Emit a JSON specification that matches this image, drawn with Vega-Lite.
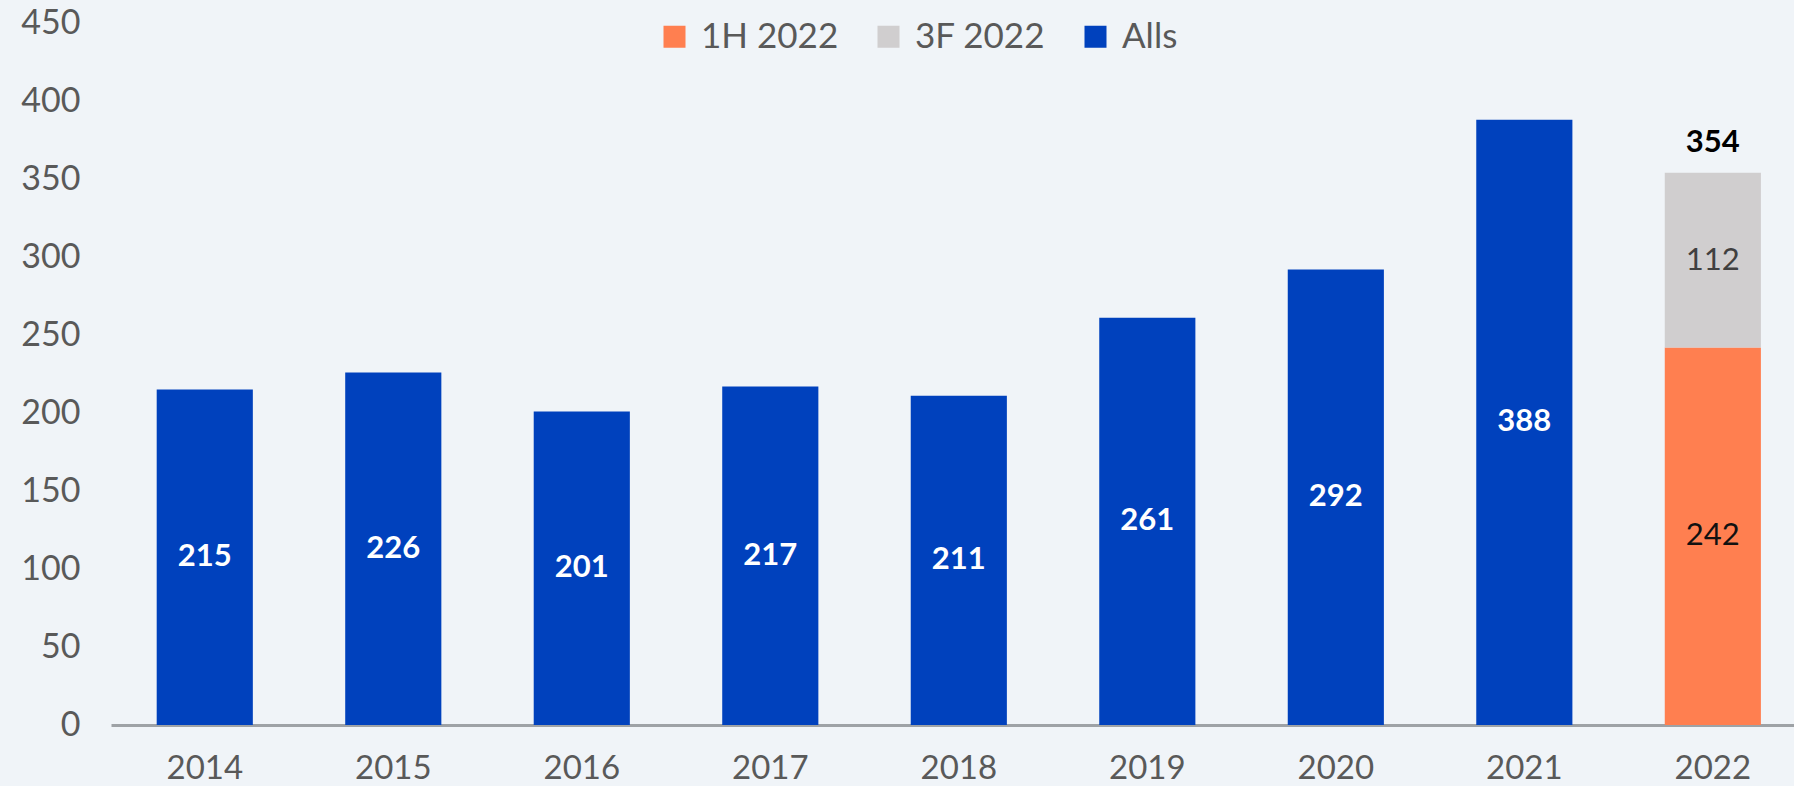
{
  "$schema": "https://vega.github.io/schema/vega-lite/v6.json",
  "width": 1683,
  "height": 702,
  "autosize": {"type": "none"},
  "padding": {"left": 111, "top": 23, "right": 0, "bottom": 61},
  "background": "#F0F4F8",
  "config": {
    "view": {"stroke": null},
    "font": "Lato"
  },
  "data": {
    "values": [
      {"year": "2014", "series": "Alls", "value": 215},
      {"year": "2015", "series": "Alls", "value": 226},
      {"year": "2016", "series": "Alls", "value": 201},
      {"year": "2017", "series": "Alls", "value": 217},
      {"year": "2018", "series": "Alls", "value": 211},
      {"year": "2019", "series": "Alls", "value": 261},
      {"year": "2020", "series": "Alls", "value": 292},
      {"year": "2021", "series": "Alls", "value": 388},
      {"year": "2022", "series": "1H 2022", "value": 242},
      {"year": "2022", "series": "3F 2022", "value": 112}
    ]
  },
  "encoding": {
    "x": {
      "field": "year",
      "type": "ordinal",
      "title": null,
      "scale": {"paddingInner": 0.49, "paddingOuter": 0.209, "align": 0.58},
      "axis": {
        "labelAngle": 0,
        "labelFont": "Lato",
        "labelFontSize": 33,
        "labelColor": "#595959",
        "labelPadding": 27,
        "ticks": false,
        "domainColor": "#9EA2A6",
        "domainWidth": 3,
        "grid": false
      }
    }
  },
  "layer": [
    {
      "mark": {"type": "bar"},
      "encoding": {
        "y": {
          "field": "value",
          "type": "quantitative",
          "stack": "zero",
          "title": null,
          "scale": {"domain": [0, 450], "nice": false},
          "axis": {
            "values": [0, 50, 100, 150, 200, 250, 300, 350, 400, 450],
            "labelFont": "Lato",
            "labelFontSize": 34,
            "labelColor": "#595959",
            "labelPadding": 31,
            "ticks": false,
            "domain": false,
            "grid": false
          }
        },
        "order": {"field": "series", "sort": "ascending"},
        "color": {
          "field": "series",
          "type": "nominal",
          "scale": {
            "domain": ["1H 2022", "3F 2022", "Alls"],
            "range": ["#FF7F50", "#D0CECF", "#0041BD"]
          },
          "legend": {
            "title": null,
            "orient": "none",
            "legendX": 546,
            "legendY": -4,
            "direction": "horizontal",
            "symbolType": "square",
            "symbolSize": 484,
            "symbolStrokeWidth": 0,
            "labelFont": "Lato",
            "labelFontSize": 35,
            "labelColor": "#595959",
            "columnPadding": 32,
            "labelOffset": 9
          }
        }
      }
    },
    {
      "transform": [{"filter": "datum.series === 'Alls'"}],
      "mark": {"type": "text", "font": "Lato", "fontWeight": "bold", "fontSize": 31, "color": "#FFFFFF", "baseline": "middle"},
      "encoding": {
        "y": {"field": "value", "type": "quantitative", "scale": {"domain": [0, 900], "nice": false}, "axis": null},
        "text": {"field": "value", "type": "quantitative"}
      }
    },
    {
      "transform": [{"filter": "datum.series === '1H 2022'"}],
      "mark": {"type": "text", "font": "Lato", "fontSize": 31, "color": "#111111", "baseline": "middle"},
      "encoding": {
        "y": {"field": "value", "type": "quantitative", "scale": {"domain": [0, 900], "nice": false}, "axis": null},
        "text": {"field": "value", "type": "quantitative"}
      }
    },
    {
      "transform": [
        {"stack": "value", "groupby": ["year"], "sort": [{"field": "series"}], "as": ["v0", "v1"]},
        {"filter": "datum.series === '3F 2022'"}
      ],
      "layer": [
        {
          "mark": {"type": "text", "font": "Lato", "fontSize": 31, "color": "#404040", "baseline": "middle", "dy": 88},
          "encoding": {
            "y": {"field": "v1", "type": "quantitative", "scale": {"domain": [0, 450], "nice": false}, "axis": null},
            "text": {"field": "value", "type": "quantitative"}
          }
        },
        {
          "mark": {"type": "text", "font": "Lato", "fontWeight": "bold", "fontSize": 31, "color": "#000000", "baseline": "middle", "dy": -30},
          "encoding": {
            "y": {"field": "v1", "type": "quantitative", "scale": {"domain": [0, 450], "nice": false}, "axis": null},
            "text": {"field": "v1", "type": "quantitative"}
          }
        }
      ]
    }
  ],
  "resolve": {"scale": {"y": "independent"}}
}
